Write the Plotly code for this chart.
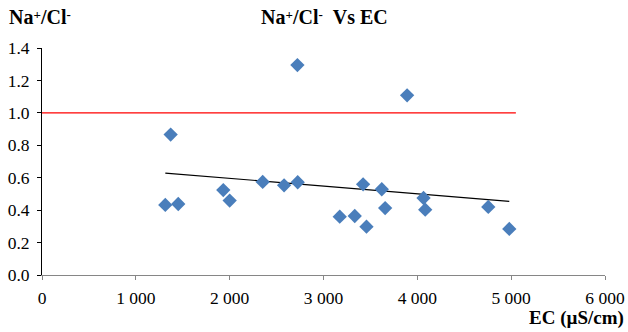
import numpy as np
import plotly.graph_objects as go

ec = [1314, 1371, 1452, 1932, 2000, 2352, 2580, 2725, 2722, 3891,
      3173, 3333, 3422, 3458, 3621, 3657, 4066, 4084, 4756, 4980]
na_cl = [0.432, 0.866, 0.438, 0.524, 0.459, 0.574, 0.553, 0.572, 1.295, 1.108,
         0.360, 0.364, 0.559, 0.298, 0.529, 0.413, 0.475, 0.403, 0.420, 0.284]
ref_x = [0, 5050]
ref_y = [1.0, 1.0]
x_ticks = [0, 1000, 2000, 3000, 4000, 5000, 6000]
x_tick_labels = ["0", "1 000", "2 000", "3 000", "4 000", "5 000", "6 000"]
y_ticks = [0, 0.2, 0.4, 0.6, 0.8, 1.0, 1.2, 1.4]

slope, intercept = np.polyfit(ec, na_cl, 1)
trend_x = [min(ec), max(ec)]
trend_y = [slope * v + intercept for v in trend_x]

font = "Liberation Serif"

L, R, T, B = 42, 23, 48, 57
W, H = 628, 332

fig = go.Figure()
fig.add_trace(go.Scatter(x=ref_x, y=ref_y, mode="lines",
                         line=dict(color="#ff0000", width=1.2), hoverinfo="skip"))
fig.add_trace(go.Scatter(x=trend_x, y=trend_y, mode="lines",
                         line=dict(color="black", width=1.2), hoverinfo="skip"))
fig.add_trace(go.Scatter(x=ec, y=na_cl, mode="markers",
                         marker=dict(symbol="diamond", size=11, color="#4a7ebb",
                                     line=dict(width=0))))

pw = W - L - R
ph = H - T - B


def px(xp, yp):
    return (xp - L) / pw, (H - B - yp) / ph


ax1, ay1 = px(325, 17)
ax2, ay2 = px(7, 17)
ax3, ay3 = px(626, 318)

sup_p = '<span style="font-size:13px;baseline-shift:35%">+</span>'
sup_m = '<span style="font-size:13px;baseline-shift:35%">-</span>'
ratio = f"Na{sup_p}/Cl{sup_m}"

fig.update_layout(
    width=W, height=H,
    margin=dict(l=L, r=R, t=T, b=B, autoexpand=False),
    paper_bgcolor="white", plot_bgcolor="white",
    showlegend=False,
    font=dict(family=font, size=17, color="black"),
    xaxis=dict(range=[0, 6000], tickvals=x_ticks, ticktext=x_tick_labels,
               showgrid=False, zeroline=False, showline=True, linecolor="#868686",
               linewidth=1, ticks="outside", ticklen=4, tickcolor="#868686",
               ticklabelstandoff=3,
               tickfont=dict(family=font, size=17.5), automargin=False),
    yaxis=dict(range=[0, 1.4], tickvals=y_ticks, tickformat=".1f",
               showgrid=False, zeroline=False, showline=True, linecolor="black",
               linewidth=1, ticks="outside", ticklen=4, tickcolor="black",
               ticklabelstandoff=4,
               tickfont=dict(family=font, size=17.5), automargin=False),
    annotations=[
        dict(text=f"<b>{ratio}\u00a0\u00a0Vs EC</b>", x=ax1, y=ay1,
             xref="paper", yref="paper", showarrow=False, xanchor="center", yanchor="middle",
             font=dict(family=font, size=20)),
        dict(text=f"<b>{ratio}</b>", x=ax2, y=ay2,
             xref="paper", yref="paper", showarrow=False, xanchor="left", yanchor="middle",
             font=dict(family=font, size=20)),
        dict(text="<b>EC (µS/cm)</b>", x=ax3, y=ay3,
             xref="paper", yref="paper", showarrow=False, xanchor="right", yanchor="middle",
             font=dict(family=font, size=19)),
    ],
)

fig.write_html("out.html")
